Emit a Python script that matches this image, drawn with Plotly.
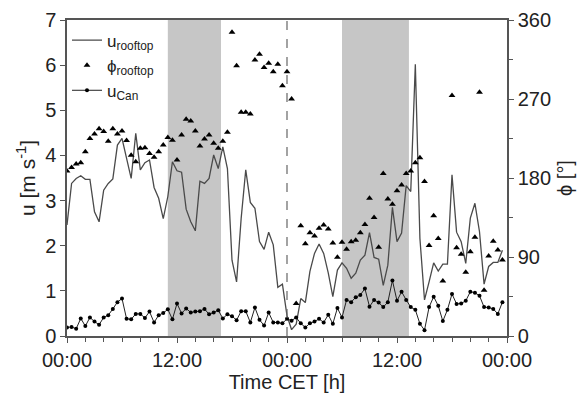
import plotly.graph_objects as go

# time in hours since start (half-hourly)
hours = [i * 0.5 for i in range(96)]

u_rooftop = [
    2.46, 3.38, 3.49, 3.55, 3.47, 3.47, 2.75, 2.53, 3.23, 3.38, 3.48, 4.23,
    4.38, 3.90, 3.49, 4.49, 3.68, 3.84, 3.90, 3.29, 3.05, 2.60, 3.09, 3.86,
    3.66, 3.63, 2.81, 2.53, 2.33, 3.43, 3.38, 3.49, 4.01, 3.71, 4.19, 3.71,
    1.68, 1.20, 2.61, 3.68, 2.96, 2.83, 2.09, 1.92, 2.30, 2.02, 1.08, 1.15,
    0.45, 0.14, 0.26, 0.83, 0.74, 1.43, 1.83, 2.04, 1.83, 1.40, 0.87, 1.46,
    1.62, 1.50, 1.28, 1.39, 1.68, 1.79, 2.29, 1.74, 1.70, 1.12, 1.57, 2.85,
    2.09, 2.28, 3.33, 3.20, 6.02, 2.16, 0.80, 1.20, 1.62, 1.44, 1.59, 1.59,
    3.57, 2.30, 2.09, 1.61, 2.61, 2.94, 2.31, 1.15, 1.54, 1.63, 1.63, 1.90,
]

phi_rooftop = [
    188, 192, 196, 197.5, 210, 225, 230, 236, 233, 222, 236, 230,
    233.6, 222.6, 206, 198.6, 214, 214.6, 208, 203.6, 210, 217.6, 226, 223,
    200.5, 229, 247, 245, 233.6, 216.5, 224.5, 229, 219.5, 213.8, 222, 232,
    346, 308, 255, 255, 253, 314.5, 321, 306, 310.7, 301, 309.5, 285,
    301, 270, 37, 125.7, 105, 117.7, 114, 122.7, 126.5, 122, 106, 89.6,
    106.7, 98.7, 107.5, 109, 117.7, 127, 157, 135, 101, 185, 156, 150,
    165.6, 172, 185, 188, 197.5, 203, 176, 103, 137, 111, 62.7, None,
    274, 100.6, 93, 72.5, 96, 112.4, 277.6, 52, 91, 108, 98, 86.6,
]

u_can = [
    0.19, 0.20, 0.16, 0.39, 0.22, 0.41, 0.32, 0.25, 0.41, 0.46, 0.60, 0.75,
    0.83, 0.38, 0.37, 0.49, 0.49, 0.40, 0.54, 0.30, 0.46, 0.51, 0.59, 0.37,
    0.72, 0.50, 0.61, 0.52, 0.54, 0.55, 0.60, 0.48, 0.52, 0.57, 0.39, 0.48,
    0.44, 0.35, 0.55, 0.55, 0.30, 0.63, 0.36, 0.23, 0.52, 0.30, 0.30, 0.28,
    0.38, 0.34, 0.41, 0.28, 0.19, 0.28, 0.32, 0.38, 0.30, 0.47, 0.27, 0.62,
    0.41, 0.80, 0.75, 0.86, 0.91, 1.05, 0.65, 0.80, 0.74, 0.64, 0.75, 1.23,
    0.78, 0.98, 0.80, 0.64, 0.58, 0.27, 0.13, 0.64, 0.87, 0.67, 0.33, 0.58,
    0.93, 0.71, 0.72, 0.78, 0.98, 0.96, 0.89, 0.64, 0.63, 0.60, 0.49, 0.75,
]

shade_start = [11.0, 30.0]
shade_end = [16.8, 37.3]
midnight_marker = 24

tick_vals = [0, 12, 24, 36, 48]
tick_text = ["00:00", "12:00", "00:00", "12:00", "00:00"]

FONT = "Arial, Liberation Sans, sans-serif"
AX = "#555555"
FS = 20

fig = go.Figure()

fig.add_trace(go.Scatter(
    x=hours, y=u_rooftop, mode="lines", name="u<sub>rooftop</sub>",
    line=dict(color="#4a4a4a", width=1.3), yaxis="y",
))
fig.add_trace(go.Scatter(
    x=hours, y=phi_rooftop, mode="markers", name="ϕ<sub>rooftop</sub>",
    marker=dict(symbol="triangle-up", size=6, color="black"), yaxis="y2",
))
fig.add_trace(go.Scatter(
    x=hours, y=u_can, mode="lines+markers", name="u<sub>Can</sub>",
    line=dict(color="#222222", width=1),
    marker=dict(symbol="circle", size=4, color="black"), yaxis="y",
))

shapes = []
for s, e in zip(shade_start, shade_end):
    shapes.append(dict(type="rect", xref="x", yref="paper", x0=s, x1=e, y0=0, y1=1,
                       fillcolor="#c6c6c6", line=dict(width=0), layer="below"))
shapes.append(dict(type="line", xref="x", yref="paper", x0=midnight_marker, x1=midnight_marker,
                   y0=0, y1=1, line=dict(color="#666666", width=1.2, dash="dash"), layer="above"))

fig.update_layout(
    width=585, height=395,
    margin=dict(l=59, r=86, t=12, b=67, autoexpand=False),
    paper_bgcolor="white", plot_bgcolor="white",
    font=dict(family=FONT, size=FS, color="#222222"),
    shapes=shapes,
    showlegend=True,
    legend=dict(x=0.0, y=0.992, xanchor="left", yanchor="top",
                bgcolor="rgba(0,0,0,0)", font=dict(size=17),
                tracegroupgap=0, itemwidth=30),
    xaxis=dict(
        automargin=False,
        range=[0, 48], tickvals=tick_vals, ticktext=tick_text,
        ticks="outside", ticklen=5, tickcolor=AX, showgrid=False, zeroline=False,
        showline=True, linecolor=AX, linewidth=1.5, mirror=True,
        minor=dict(dtick=2, tick0=0, ticks="outside", ticklen=4, tickcolor=AX, showgrid=False),
        title=dict(text="Time CET [h]", standoff=5, font=dict(size=FS)),
        tickfont=dict(size=FS),
    ),
    yaxis=dict(
        automargin=False,
        range=[0, 7], dtick=1, ticks="outside", ticklen=5, tickcolor=AX,
        showgrid=False, zeroline=False, showline=True, linecolor=AX, linewidth=1.5,
        title=dict(text="u [m s<sup>-1</sup>]", standoff=4, font=dict(size=21)),
        tickfont=dict(size=FS),
    ),
    yaxis2=dict(
        automargin=False,
        range=[0, 360], tickvals=[0, 90, 180, 270, 360], overlaying="y", side="right",
        ticks="outside", ticklen=5, tickcolor=AX, showgrid=False, zeroline=False,
        showline=True, linecolor=AX, linewidth=1.5,
        minor=dict(dtick=45, tick0=0, ticks="outside", ticklen=4, tickcolor=AX, showgrid=False),
        title=dict(text="ϕ [°]", standoff=8, font=dict(size=FS)),
        tickfont=dict(size=FS),
    ),
)

fig.write_html("out.html")
